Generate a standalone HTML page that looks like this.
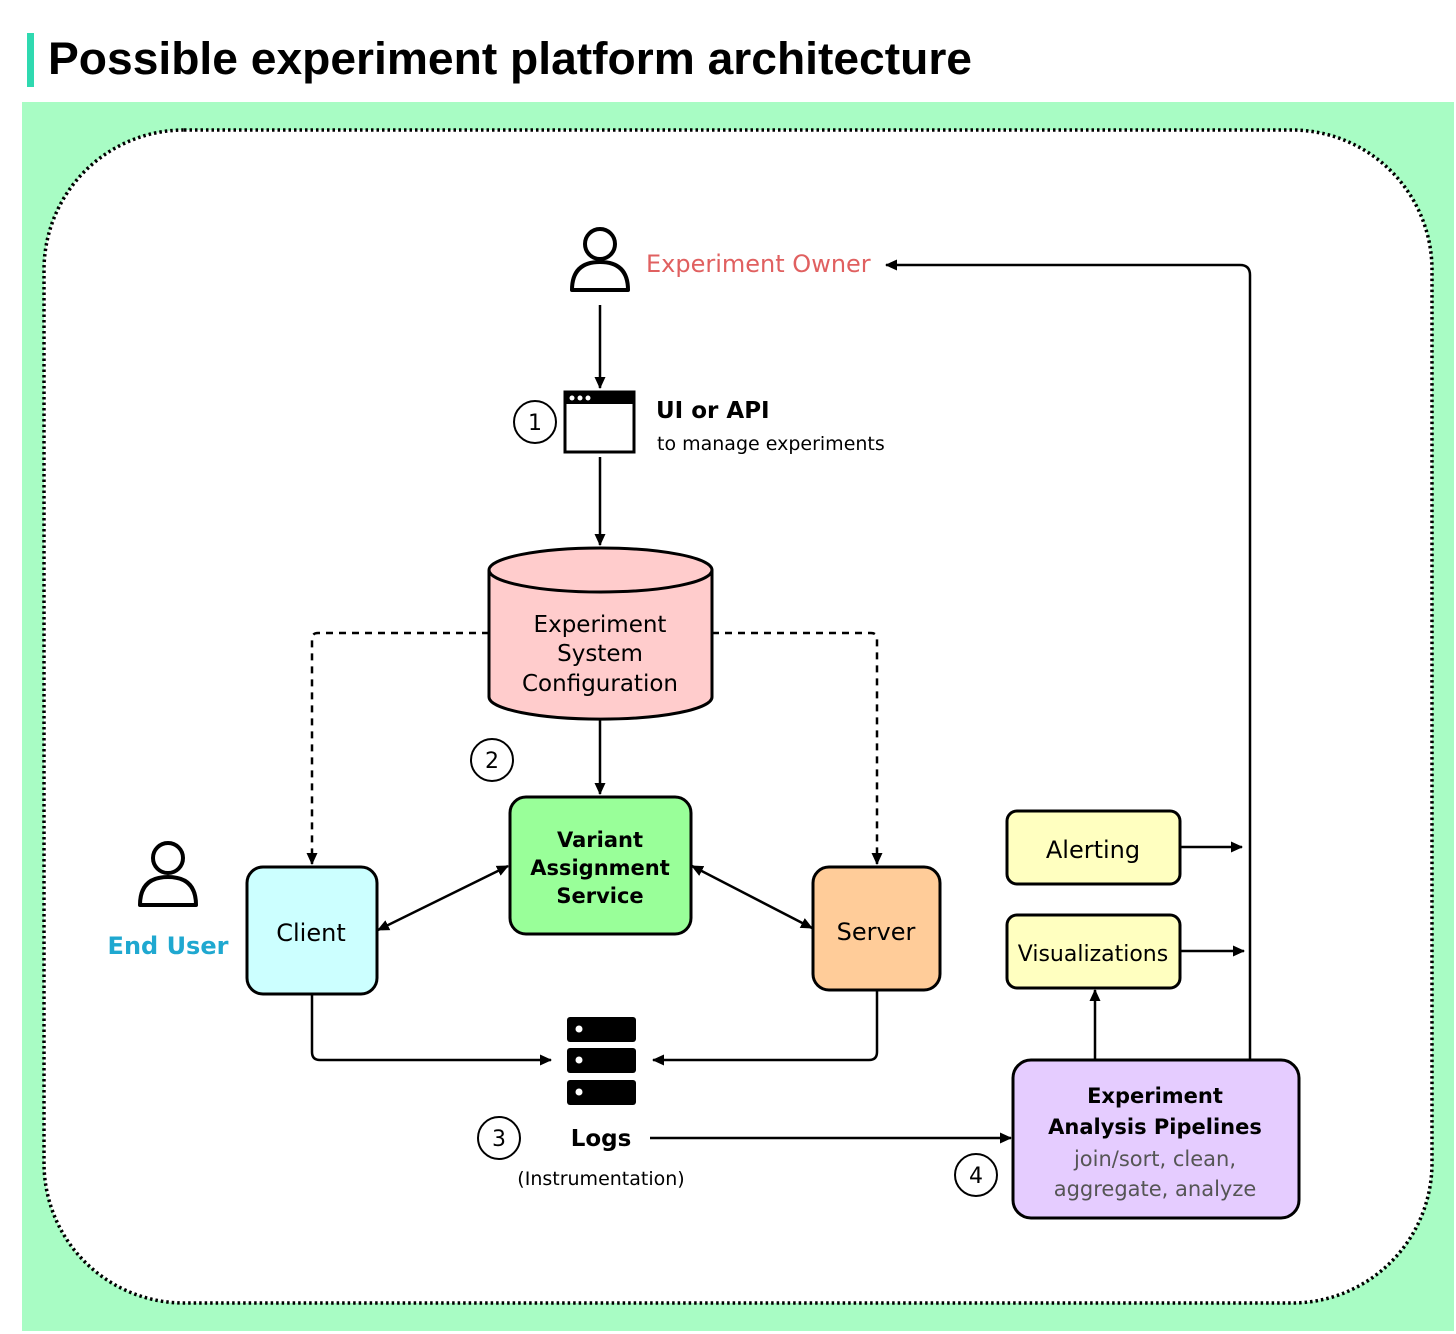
<!DOCTYPE html>
<html><head><meta charset="utf-8"><style>
html,body{margin:0;padding:0;background:#fff;}
svg{display:block;}
text{font-family:"DejaVu Sans","Liberation Sans",sans-serif;}
</style></head><body>
<svg width="1456" height="1334" viewBox="0 0 1456 1334" xmlns="http://www.w3.org/2000/svg">
<defs>
<marker id="a" markerWidth="14" markerHeight="14" refX="11" refY="7" orient="auto-start-reverse" markerUnits="userSpaceOnUse">
<path d="M0,1.5 L12,7 L0,12.5 Z" fill="#000"/></marker>
</defs>
<rect x="27" y="33" width="7" height="54" fill="#2fd9b0"/>
<text x="48" y="74" font-weight="bold" font-size="45" fill="#000" textLength="924" lengthAdjust="spacingAndGlyphs" style="font-family:'Liberation Sans',sans-serif">Possible experiment platform architecture</text>
<rect x="22" y="102" width="1432" height="1229" fill="#a8fcc4"/>
<rect x="44" y="130" width="1388" height="1173" rx="140" fill="#fff" stroke="#000" stroke-width="3.5" stroke-dasharray="2.5 3"/>

<g fill="none" stroke="#000" stroke-width="2.5">
<circle cx="600" cy="244" r="15" stroke-width="4"/>
<path d="M572,290 Q572,262 600,262 Q628,262 628,290 Z" stroke-width="4" stroke-linejoin="round"/>
<circle cx="168" cy="858" r="15" stroke-width="4"/>
<path d="M140,905 Q140,877 168,877 Q196,877 196,905 Z" stroke-width="4" stroke-linejoin="round"/>
<path d="M1250,1060 V275 Q1250,265 1240,265 H886" marker-end="url(#a)"/>
<path d="M600,305 V388" marker-end="url(#a)"/>
<path d="M600,457 V545" marker-end="url(#a)"/>
<path d="M600,718 V794" marker-end="url(#a)"/>
<path d="M489,633 H318 Q312,633 312,639 V864" stroke-dasharray="7 6" marker-end="url(#a)"/>
<path d="M712,633 H871 Q877,633 877,639 V864" stroke-dasharray="7 6" marker-end="url(#a)"/>
<path d="M378,930 L508,866" marker-start="url(#a)" marker-end="url(#a)"/>
<path d="M692,866 L812,928" marker-start="url(#a)" marker-end="url(#a)"/>
<path d="M312,995 V1052 Q312,1060 320,1060 H551" marker-end="url(#a)"/>
<path d="M877,990 V1052 Q877,1060 869,1060 H653" marker-end="url(#a)"/>
<path d="M650,1138 H1011" marker-end="url(#a)"/>
<path d="M1180,847 H1242" marker-end="url(#a)"/>
<path d="M1180,951 H1244" marker-end="url(#a)"/>
<path d="M1095,1060 V990" marker-end="url(#a)"/>
<circle cx="535" cy="422" r="21" stroke-width="2"/>
<circle cx="492" cy="760" r="21" stroke-width="2"/>
<circle cx="499" cy="1138" r="21" stroke-width="2"/>
<circle cx="976" cy="1175" r="21" stroke-width="2"/>
</g>
<rect x="565" y="392" width="69" height="60" fill="#fff" stroke="#000" stroke-width="3"/>
<rect x="565" y="392" width="69" height="12" fill="#000"/>
<circle cx="572" cy="398" r="2.5" fill="#fff"/><circle cx="580" cy="398" r="2.5" fill="#fff"/><circle cx="588" cy="398" r="2.5" fill="#fff"/>
<path d="M489,570 V697 A111,22 0 0 0 712,697 V570" fill="#ffcccc" stroke="#000" stroke-width="3"/>
<ellipse cx="600.5" cy="570" rx="111.5" ry="22" fill="#ffcccc" stroke="#000" stroke-width="3"/>
<rect x="510" y="797" width="181" height="137" rx="16" fill="#99ff99" stroke="#000" stroke-width="3"/>
<rect x="247" y="867" width="130" height="127" rx="16" fill="#ccffff" stroke="#000" stroke-width="3"/>
<rect x="813" y="867" width="127" height="123" rx="16" fill="#ffcc99" stroke="#000" stroke-width="3"/>
<rect x="1007" y="811" width="173" height="73" rx="10" fill="#ffffc0" stroke="#000" stroke-width="3"/>
<rect x="1007" y="915" width="173" height="73" rx="10" fill="#ffffc0" stroke="#000" stroke-width="3"/>
<rect x="1013" y="1060" width="286" height="158" rx="18" fill="#e5ccff" stroke="#000" stroke-width="3"/>
<g fill="#000"><rect x="567" y="1017" width="69" height="25" rx="3"/><rect x="567" y="1048" width="69" height="25" rx="3"/><rect x="567" y="1080" width="69" height="25" rx="3"/></g>
<g fill="#fff"><circle cx="579" cy="1029" r="3.5"/><circle cx="579" cy="1060" r="3.5"/><circle cx="579" cy="1092" r="3.5"/></g>

<g font-size="22" text-anchor="middle" fill="#000">
<text x="535" y="430">1</text><text x="492" y="768">2</text><text x="499" y="1146">3</text><text x="976" y="1183">4</text>
<text x="600" y="632" font-size="23">Experiment</text>
<text x="600" y="661" font-size="23">System</text>
<text x="600" y="691" font-size="23">Configuration</text>
<g font-weight="bold" font-size="21"><text x="600" y="847">Variant</text><text x="600" y="875">Assignment</text><text x="600" y="903">Service</text></g>
<text x="311" y="941" font-size="24">Client</text>
<text x="876" y="940" font-size="24">Server</text>
<text x="1093" y="858" font-size="24">Alerting</text>
<text x="1093" y="961" font-size="22">Visualizations</text>
<text x="168" y="954" font-size="24" font-weight="bold" fill="#1fa8d0">End User</text>
<text x="601" y="1146" font-size="23" font-weight="bold">Logs</text>
<text x="601" y="1185" font-size="19">(Instrumentation)</text>
<g font-weight="bold" font-size="21"><text x="1155" y="1103">Experiment</text><text x="1155" y="1134">Analysis Pipelines</text></g>
<g font-size="21" fill="#555"><text x="1155" y="1166">join/sort, clean,</text><text x="1155" y="1196">aggregate, analyze</text></g>
</g>
<text x="646" y="272" font-size="24" fill="#e06060">Experiment Owner</text>
<text x="656" y="418" font-size="23" font-weight="bold">UI or API</text>
<text x="657" y="450" font-size="19">to manage experiments</text>
</svg>
</body></html>
